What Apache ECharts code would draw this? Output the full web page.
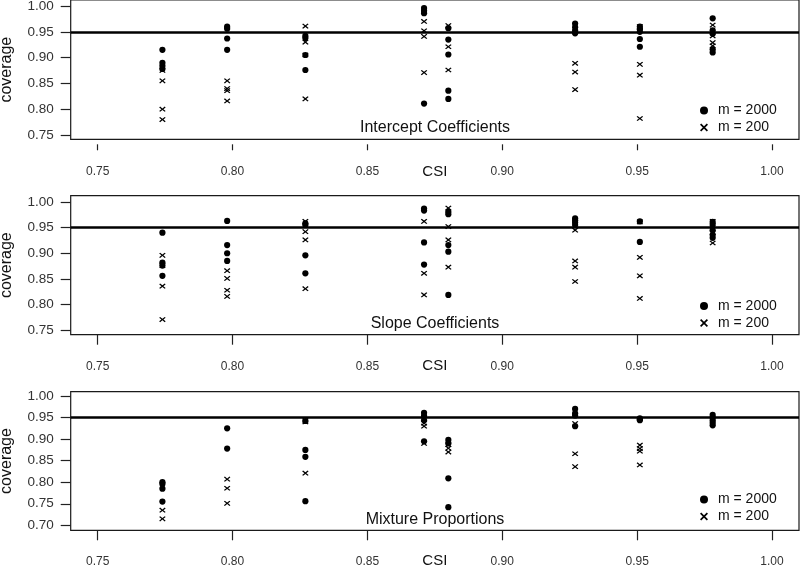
<!DOCTYPE html>
<html>
<head>
<meta charset="utf-8">
<script src="https://cdn.jsdelivr.net/npm/echarts@6/dist/echarts.min.js"></script>
<style>html,body{margin:0;padding:0;background:#fff}#c{width:800px;height:566px}</style>
</head>
<body>
<div id="c"></div>
<script>
// CSI values of the eight groups
const csi = [0.774, 0.798, 0.827, 0.871, 0.880, 0.927, 0.951, 0.978];
// Tick labels
const xTicks = [0.75, 0.80, 0.85, 0.90, 0.95, 1.00];
const yTicksA = [0.75, 0.80, 0.85, 0.90, 0.95, 1.00];
const yTicksB = [0.70, 0.75, 0.80, 0.85, 0.90, 0.95, 1.00];
const panelTitles = ['Intercept Coefficients', 'Slope Coefficients', 'Mixture Proportions'];
const seriesNames = ['m = 2000', 'm = 200'];
const nominal = 0.95;

// Intercept coefficients coverage (per CSI group)
const int2000 = [
  [0.915, 0.890, 0.884, 0.878],
  [0.960, 0.956, 0.937, 0.915],
  [0.942, 0.938, 0.905, 0.876],
  [0.996, 0.991, 0.986, 0.811],
  [0.957, 0.935, 0.906, 0.836, 0.820],
  [0.966, 0.959, 0.952, 0.947],
  [0.960, 0.955, 0.950, 0.936, 0.921],
  [0.976, 0.953, 0.946, 0.916, 0.910]
];
const int200 = [
  [0.875, 0.855, 0.800, 0.780],
  [0.855, 0.840, 0.836, 0.816],
  [0.961, 0.930, 0.905, 0.820],
  [0.970, 0.952, 0.941, 0.871],
  [0.962, 0.921, 0.876],
  [0.950, 0.889, 0.872, 0.838],
  [0.960, 0.887, 0.866, 0.782],
  [0.963, 0.942, 0.929, 0.923]
];
// Slope coefficients coverage
const slope2000 = [
  [0.940, 0.882, 0.876, 0.856],
  [0.963, 0.916, 0.900, 0.885],
  [0.958, 0.955, 0.896, 0.861],
  [0.987, 0.983, 0.921, 0.878],
  [0.981, 0.976, 0.916, 0.903, 0.819],
  [0.968, 0.964, 0.960, 0.955],
  [0.962, 0.922],
  [0.961, 0.955, 0.945, 0.936, 0.930]
];
const slope200 = [
  [0.896, 0.876, 0.836, 0.771],
  [0.866, 0.851, 0.828, 0.816],
  [0.962, 0.942, 0.926, 0.831],
  [0.962, 0.861, 0.819],
  [0.988, 0.952, 0.926, 0.873],
  [0.945, 0.885, 0.873, 0.845],
  [0.961, 0.892, 0.856, 0.812],
  [0.962, 0.940, 0.920]
];
// Mixture proportions coverage
const mix2000 = [
  [0.800, 0.796, 0.785, 0.755],
  [0.925, 0.878],
  [0.942, 0.875, 0.859, 0.756],
  [0.961, 0.954, 0.944, 0.895],
  [0.898, 0.890, 0.809, 0.742],
  [0.970, 0.960, 0.955, 0.930],
  [0.948, 0.946, 0.944],
  [0.956, 0.950, 0.944, 0.938, 0.932]
];
const mix200 = [
  [0.735, 0.715],
  [0.807, 0.786, 0.751],
  [0.944, 0.940, 0.821],
  [0.937, 0.930, 0.890],
  [0.887, 0.879, 0.870],
  [0.936, 0.866, 0.836],
  [0.886, 0.878, 0.872, 0.840],
  []
];

const panels = [[int2000, int200], [slope2000, slope200], [mix2000, mix200]];

const FONT = "'Liberation Sans', Arial, Helvetica, sans-serif";
const XSYM = 'path://M1.5,0L5,3.5L8.5,0L10,1.5L6.5,5L10,8.5L8.5,10L5,6.5L1.5,10L0,8.5L3.5,5L0,1.5Z';

const layout = [
  {top: 0, height: 139.3, ymin: 0.7417, ymax: 1.0116, yt: yTicksA, xOff: 5, tickLen: 6, lblMargin: 21, nameGap: 20, titleY: 120, legTop: 103.5},
  {top: 195.7, height: 139, ymin: 0.7415, ymax: 1.012, yt: yTicksA, xOff: 0, tickLen: 10, lblMargin: 26, nameGap: 24, titleY: 315.5, legTop: 299},
  {top: 391.7, height: 138.6, ymin: 0.6884, ymax: 1.010, yt: yTicksB, xOff: 0, tickLen: 10, lblMargin: 25, nameGap: 23.5, titleY: 512, legTop: 492.5}
];

function toPoints(groups) {
  const pts = [];
  groups.forEach((vals, i) => vals.forEach(v => pts.push([csi[i], v])));
  return pts;
}

const grid = [], xAxis = [], yAxis = [], series = [], title = [], legend = [];
layout.forEach((L, p) => {
  grid.push({left: 70.7, right: 1, top: L.top, height: L.height, show: true,
    containLabel: false, outerBoundsMode: 'none',
    borderColor: '#1a1a1a', borderWidth: 1.2, backgroundColor: 'transparent'});
  xAxis.push({type: 'value', gridIndex: p, min: 0.74, max: 1.01, offset: L.xOff,
    name: 'CSI', nameLocation: 'middle', nameGap: L.nameGap, nameMoveOverlap: false,
    nameTextStyle: {fontFamily: FONT, fontSize: 15, color: '#111', verticalAlign: 'top'},
    axisLine: {show: false},
    axisTick: {show: true, length: L.tickLen, customValues: xTicks, lineStyle: {color: '#222', width: 1.2}},
    axisLabel: {customValues: xTicks, margin: L.lblMargin, fontFamily: FONT, fontSize: 12, color: '#333',
      formatter: v => v.toFixed(2)},
    splitLine: {show: false}});
  yAxis.push({type: 'value', gridIndex: p, min: L.ymin, max: L.ymax,
    name: 'coverage', nameLocation: 'middle', nameGap: 56, nameRotate: 90, nameMoveOverlap: false,
    nameTextStyle: {fontFamily: FONT, fontSize: 16, color: '#111'},
    axisLine: {show: false},
    axisTick: {show: true, length: 10, customValues: L.yt, lineStyle: {color: '#222', width: 1.2}},
    axisLabel: {customValues: L.yt, margin: 17, fontFamily: FONT, fontSize: 13.5, color: '#333',
      formatter: v => v.toFixed(2)},
    splitLine: {show: false}});
  const [d2000, d200] = panels[p];
  series.push({type: 'scatter', name: seriesNames[0], xAxisIndex: p, yAxisIndex: p,
    symbol: 'circle', symbolSize: 6.2, itemStyle: {color: '#000', opacity: 1},
    data: toPoints(d2000), z: 3,
    markLine: {silent: true, symbol: 'none', label: {show: false},
      lineStyle: {color: '#000', width: 2.6, type: 'solid'},
      emphasis: {disabled: true},
      data: [{yAxis: nominal}]}});
  series.push({type: 'scatter', name: seriesNames[1], xAxisIndex: p, yAxisIndex: p,
    symbol: XSYM, symbolSize: [6.5, 5.2], itemStyle: {color: '#000', opacity: 1},
    data: toPoints(d200), z: 3});
  title.push({text: panelTitles[p], left: 435, textAlign: 'center', top: L.titleY, padding: 0,
    textStyle: {fontFamily: FONT, fontSize: 16, fontWeight: 'normal', color: '#111'}});
  legend.push({orient: 'vertical', left: 700, top: L.legTop, padding: 0, itemGap: 3,
    itemWidth: 8, itemHeight: 8, selectedMode: false,
    itemStyle: {opacity: 1},
    textStyle: {fontFamily: FONT, fontSize: 14, color: '#111', padding: [0, 0, 0, 5]},
    data: [{name: seriesNames[0], icon: 'circle'}, {name: seriesNames[1], icon: XSYM}]});
});

const chart = echarts.init(document.getElementById('c'), null, {renderer: 'canvas'});
chart.setOption({animation: false, backgroundColor: '#fff', title, legend, grid, xAxis, yAxis, series,
  tooltip: {show: false}});
</script>
</body>
</html>
